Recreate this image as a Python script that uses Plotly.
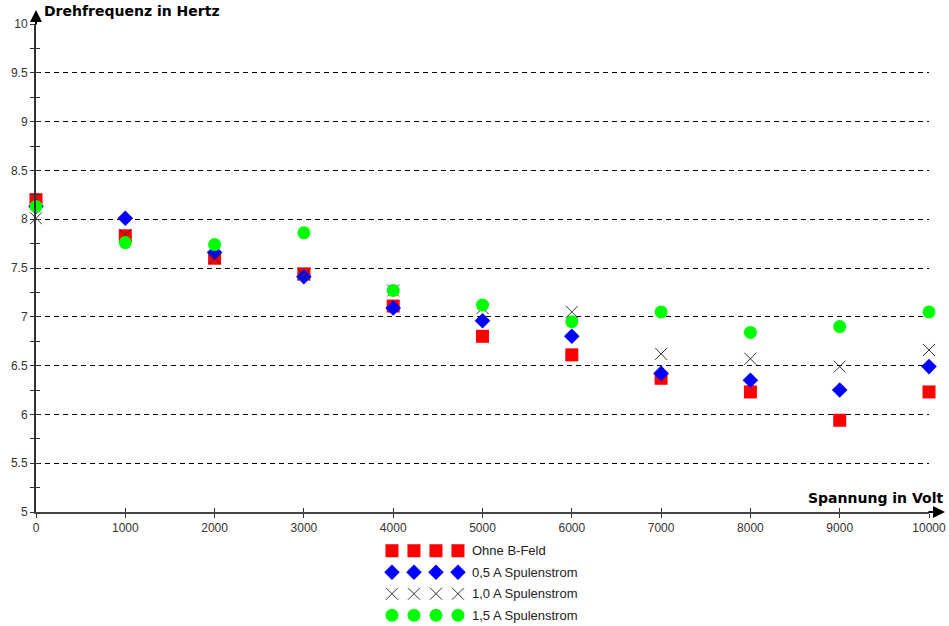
import plotly.graph_objects as go

# Spannung in Volt
spannung = [0, 1000, 2000, 3000, 4000, 5000, 6000, 7000, 8000, 9000, 10000]

# Drehfrequenz in Hertz for each coil current
ohne_b_feld = [8.20, 7.83, 7.60, 7.44, 7.11, 6.80, 6.61, 6.37, 6.23, 5.94, 6.23]
spulen_05 = [8.13, 8.01, 7.66, 7.41, 7.09, 6.96, 6.80, 6.42, 6.35, 6.25, 6.49]
spulen_10 = [8.01, 7.84, 7.60, 7.43, 7.27, 7.09, 7.05, 6.62, 6.57, 6.49, 6.66]
spulen_15 = [8.13, 7.76, 7.74, 7.86, 7.27, 7.12, 6.95, 7.05, 6.84, 6.90, 7.05]

series_names = ["Ohne B-Feld", "0,5 A Spulenstrom", "1,0 A Spulenstrom", "1,5 A Spulenstrom"]
series_values = [ohne_b_feld, spulen_05, spulen_10, spulen_15]

y_ticks = [5, 5.5, 6, 6.5, 7, 7.5, 8, 8.5, 9, 9.5, 10]
y_tick_labels = ["5", "5.5", "6", "6.5", "7", "7.5", "8", "8.5", "9", "9.5", "10"]
x_ticks = spannung
x_tick_labels = [str(v) for v in spannung]

styles = [
    dict(symbol="square", size=13, color="#ff0000", line=dict(width=0)),
    dict(symbol="diamond", size=12, color="#0000ff", line=dict(width=0)),
    dict(symbol="x-thin", size=12, color="#333333", line=dict(width=1, color="#333333")),
    dict(symbol="circle", size=13, color="#00ff00", line=dict(width=0)),
]

W, H = 949, 626
ML, MR, MT, MB = 36, 20, 24, 0
plot_h = H - MT - MB
axis_bottom_px = 512
main_dom_low = 1 - (axis_bottom_px - MT) / plot_h
legend_top_px = 540
legend_dom_high = (H - legend_top_px) / plot_h

fig = go.Figure()

for name, vals, st in zip(series_names, series_values, styles):
    fig.add_trace(go.Scatter(
        x=spannung, y=vals, mode="markers", name=name,
        marker=st, showlegend=False, cliponaxis=False,
        xaxis="x", yaxis="y",
    ))

# Legend block: four sample markers per row plus label
legend_x = [0, 1, 2, 3]
for i, (name, st) in enumerate(zip(series_names, styles)):
    fig.add_trace(go.Scatter(
        x=legend_x, y=[i] * 4, mode="markers", marker=st,
        showlegend=False, xaxis="x2", yaxis="y2", hoverinfo="skip",
    ))
    fig.add_annotation(
        x=3.55, y=i, xref="x2", yref="y2", text=name, showarrow=False,
        xanchor="left", yanchor="middle",
        font=dict(family="Liberation Sans, Arial", size=13, color="#222222"),
    )

# Overlay axis that adds inward half of the crossing ticks
fig.add_trace(go.Scatter(x=[0], y=[5], mode="markers", marker=dict(opacity=0),
                         showlegend=False, xaxis="x3", yaxis="y3", hoverinfo="skip"))

tick_font = dict(family="Liberation Sans, Arial", size=12, color="#333333")

fig.update_layout(
    width=W, height=H,
    margin=dict(l=ML, r=MR, t=MT, b=MB, pad=0, autoexpand=False),
    paper_bgcolor="white", plot_bgcolor="white",
    xaxis=dict(
        range=[0, 10000], domain=[0, 1], anchor="y", automargin=False,
        tickmode="array", tickvals=x_ticks, ticktext=x_tick_labels,
        ticks="outside", ticklen=4, tickwidth=1, tickcolor="#333333",
        showline=True, linecolor="#444444", linewidth=2,
        showgrid=False, zeroline=False, tickfont=tick_font,
    ),
    yaxis=dict(
        range=[5, 10], domain=[main_dom_low, 1], anchor="x", automargin=False,
        tickmode="array", tickvals=y_ticks, ticktext=y_tick_labels,
        ticks="outside", ticklen=4, tickwidth=1, tickcolor="#333333",
        minor=dict(dtick=0.25, ticks="outside", ticklen=4, tickcolor="#333333", showgrid=False),
        showline=True, linecolor="#333333", linewidth=2,
        showgrid=True, gridcolor="#000000", gridwidth=1, griddash="5px,4px",
        zeroline=False, tickfont=tick_font,
    ),
    xaxis3=dict(
        range=[0, 10000], overlaying="x", anchor="y3", automargin=False,
        tickmode="array", tickvals=x_ticks, showticklabels=False,
        ticks="inside", ticklen=4, tickwidth=1, tickcolor="#333333",
        showline=False, showgrid=False, zeroline=False,
    ),
    yaxis3=dict(
        range=[5, 10], domain=[main_dom_low, 1], overlaying="y", anchor="x3", automargin=False,
        tickmode="array", tickvals=y_ticks, showticklabels=False,
        ticks="inside", ticklen=4, tickwidth=1, tickcolor="#333333",
        minor=dict(dtick=0.25, ticks="inside", ticklen=4, tickcolor="#333333", showgrid=False),
        showline=False, showgrid=False, zeroline=False,
    ),
    xaxis2=dict(
        range=[-16.18, 24.41], domain=[0, 1], anchor="y2", automargin=False,
        visible=False, fixedrange=True,
    ),
    yaxis2=dict(
        range=[3.5, -0.5], domain=[0, legend_dom_high], anchor="x2", automargin=False,
        visible=False, fixedrange=True,
    ),
)

title_font = dict(family="DejaVu Sans", size=14, color="#000000")

# Axis titles
fig.add_annotation(
    x=0, y=1, xref="paper", yref="paper", xshift=6, yshift=3,
    text="<b>Drehfrequenz in Hertz</b>", showarrow=False,
    xanchor="left", yanchor="bottom", font=title_font,
)
fig.add_annotation(
    x=1, y=main_dom_low, xref="paper", yref="paper", xshift=16, yshift=4,
    text="<b>Spannung in Volt</b>", showarrow=False,
    xanchor="right", yanchor="bottom", font=title_font,
)

# Arrow heads at the ends of both axes
fig.add_annotation(
    x=0, y=1, xref="paper", yref="paper", yshift=14,
    ax=0, ay=16, showarrow=True, arrowhead=2, arrowsize=1.2,
    arrowwidth=2, arrowcolor="#000000", text="",
)
fig.add_annotation(
    x=1, y=main_dom_low, xref="paper", yref="paper", xshift=16,
    ax=-18, ay=0, showarrow=True, arrowhead=2, arrowsize=1.2,
    arrowwidth=2, arrowcolor="#000000", text="",
)

fig.write_html("out.html")
